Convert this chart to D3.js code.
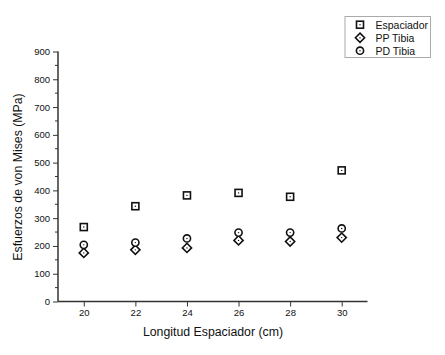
<!DOCTYPE html>
<meta charset="utf-8">
<html>
<head>
    <style>
        body { margin: 0; background: white; }
        svg text { font-family: "Liberation Sans", Arial, sans-serif; fill: #111; }
    </style>
    <script src="https://d3js.org/d3.v7.min.js"></script>
</head>
<body>
    <div id="chart"></div>
    <script>
        // data
        var longitudes = [20, 22, 24, 26, 28, 30];
        var espaciador = [268, 343, 382, 391, 377, 472];
        var ppTibia = [175, 186, 193, 220, 216, 230];
        var pdTibia = [204, 212, 227, 248, 248, 263];
        var seriesNames = ["Espaciador", "PP Tibia", "PD Tibia"];
        var yTicks = [0, 100, 200, 300, 400, 500, 600, 700, 800, 900];

        var W = 445, H = 355;
        var svg = d3.select("#chart").append("svg")
            .attr("width", W).attr("height", H);

        var x = d3.scaleLinear().domain([19, 31]).range([58, 367.5]);
        var y = d3.scaleLinear().domain([0, 900]).range([301.5, 51.5]);

        // y axis
        var yAxis = svg.append("g")
            .attr("transform", "translate(58,0)")
            .call(d3.axisLeft(y).tickValues(yTicks).tickSize(5).tickPadding(3));
        // minor ticks
        svg.append("g").selectAll("line")
            .data(d3.range(50, 900, 100))
            .enter().append("line")
            .attr("x1", 58).attr("x2", 55)
            .attr("y1", d => y(d)).attr("y2", d => y(d))
            .attr("stroke", "#333").attr("stroke-width", 1);

        // x axis
        var xAxis = svg.append("g")
            .attr("transform", "translate(0,301.5)")
            .call(d3.axisBottom(x).tickValues(longitudes).tickSize(5).tickPadding(3));

        [yAxis, xAxis].forEach(function (a) {
            a.select(".domain").attr("stroke", "#333").attr("stroke-width", 1.5);
            a.selectAll(".tick line").attr("stroke", "#333");
            a.selectAll("text").style("font-size", "9.5px").attr("fill", "#111");
        });
        yAxis.select(".domain").attr("d", "M0,301.5V51.5");
        xAxis.select(".domain").attr("d", "M58,0H367.5");

        // titles
        svg.append("text")
            .attr("x", 213).attr("y", 336)
            .attr("text-anchor", "middle")
            .style("font-size", "12.3px")
            .text("Longitud Espaciador (cm)");
        svg.append("text")
            .attr("transform", "translate(22,177) rotate(-90)")
            .attr("text-anchor", "middle")
            .style("font-size", "12.3px")
            .text("Esfuerzos de von Mises (MPa)");

        // symbols
        function square(g) {
            g.append("rect").attr("x", -3.5).attr("y", -3.5).attr("width", 7).attr("height", 7)
                .attr("fill", "white").attr("stroke", "#111").attr("stroke-width", 1.6);
            g.append("circle").attr("r", 0.7).attr("fill", "#111");
        }
        function diamond(g) {
            g.append("path").attr("d", "M0,-4.6L4.6,0L0,4.6L-4.6,0Z")
                .attr("fill", "white").attr("stroke", "#111").attr("stroke-width", 1.6);
            g.append("circle").attr("r", 0.7).attr("fill", "#111");
        }
        function circ(g) {
            g.append("circle").attr("r", 3.6)
                .attr("fill", "white").attr("stroke", "#111").attr("stroke-width", 1.6);
            g.append("circle").attr("r", 0.7).attr("fill", "#111");
        }
        var draws = [square, diamond, circ];
        var values = [espaciador, ppTibia, pdTibia];

        // draw PP first, then PD, then espaciador
        [1, 2, 0].forEach(function (s) {
            svg.append("g").selectAll("g")
                .data(longitudes)
                .enter().append("g")
                .attr("transform", (d, i) => "translate(" + x(d) + "," + y(values[s][i]) + ")")
                .each(function () { draws[s](d3.select(this)); });
        });

        // legend
        var lg = svg.append("g");
        lg.append("rect")
            .attr("x", 345).attr("y", 16.5).attr("width", 85.5).attr("height", 41)
            .attr("fill", "white").attr("stroke", "#aaa").attr("stroke-width", 1);
        seriesNames.forEach(function (name, i) {
            var row = lg.append("g").attr("transform", "translate(360," + (24.7 + i * 13) + ")");
            draws[i](row);
            row.append("text")
                .attr("x", 15.5).attr("y", 3.8)
                .style("font-size", "10.5px")
                .text(name);
        });
    </script>
</body>
</html>
